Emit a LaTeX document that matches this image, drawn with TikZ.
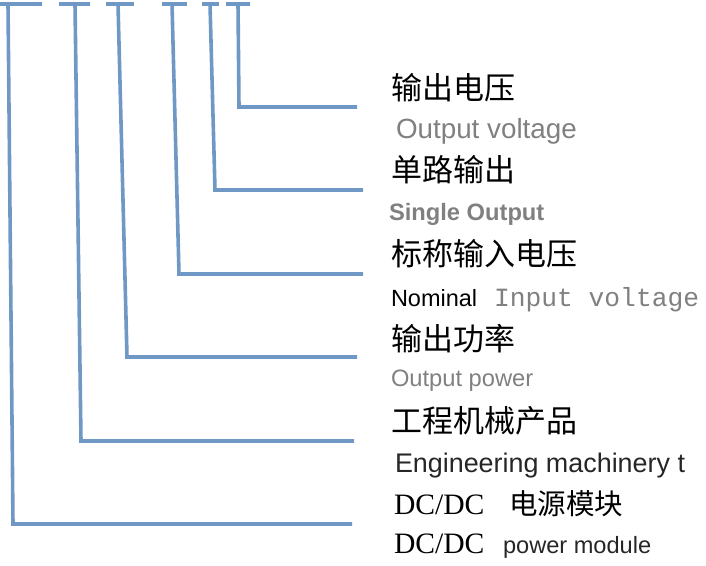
\documentclass[tikz,border=0pt]{standalone}
\usepackage{fontspec}
\setmainfont{Liberation Serif}
\newfontfamily\cjk{Noto Sans CJK SC}
\newfontfamily\arialf{Liberation Sans}
\newfontfamily\monof{Liberation Mono}
\definecolor{lineblue}{RGB}{112,152,196}
\definecolor{txtgray}{RGB}{128,128,128}
\begin{document}
\begin{tikzpicture}[x=1pt,y=-1pt,
  conn/.style={draw=lineblue,line width=3.6pt,line cap=butt,line join=miter},
  bar/.style={draw=lineblue,line width=3.4pt},
  lbl/.style={anchor=base west,inner sep=0pt,outer sep=0pt},
  zh/.style={lbl,font=\cjk\fontsize{31}{31}\selectfont,text=black},
  en/.style={lbl,font=\arialf\fontsize{25}{25}\selectfont}]
\useasboundingbox (0,0) rectangle (706,565);
% top bars
\coordinate (t1) at (8,4);   \coordinate (t1a) at (0,4);   \coordinate (t1b) at (42,4);
\coordinate (t2) at (75,4);  \coordinate (t2a) at (59,4);  \coordinate (t2b) at (90,4);
\coordinate (t3) at (118,4); \coordinate (t3a) at (106,4); \coordinate (t3b) at (134,4);
\coordinate (t4) at (172,4); \coordinate (t4a) at (162,4); \coordinate (t4b) at (187,4);
\coordinate (t5) at (210,4); \coordinate (t5a) at (202,4); \coordinate (t5b) at (219,4);
\coordinate (t6) at (238,4); \coordinate (t6a) at (226,4); \coordinate (t6b) at (250,4);
% corners
\coordinate (c1) at (13,524);  \coordinate (e1) at (352,524);
\coordinate (c2) at (81,441);  \coordinate (e2) at (354,441);
\coordinate (c3) at (127,357); \coordinate (e3) at (357,357);
\coordinate (c4) at (179,274); \coordinate (e4) at (363,274);
\coordinate (c5) at (215,190); \coordinate (e5) at (363,190);
\coordinate (c6) at (239,107); \coordinate (e6) at (357,107);
\foreach \i in {1,...,6}{
  \draw[bar] (t\i a) -- (t\i b);
  \draw[conn] (t\i) -- (c\i) -- (e\i);
}
% labels
\node[zh] (z6) at (391,99) {输出电压};
\node[en,text=txtgray,font=\arialf\fontsize{27.8}{27.8}\selectfont] (n6) at (396,138) {Output voltage};
\node[zh] (z5) at (391,181) {单路输出};
\node[en,text=txtgray,font=\arialf\bfseries\fontsize{23.7}{23.7}\selectfont] (n5) at (389,220) {Single Output};
\node[zh] (z4) at (391,265) {标称输入电压};
\node[en,text=black,font=\arialf\fontsize{23.5}{23.5}\selectfont] (n4) at (391,306) {Nominal};
\node[lbl,text=txtgray,font=\monof\fontsize{26.3}{26.3}\selectfont] (n4b) at (494,306) {Input voltage};
\node[zh] (z3) at (391,350) {输出功率};
\node[en,text=txtgray,font=\arialf\fontsize{23.7}{23.7}\selectfont] (n3) at (391,386) {Output power};
\node[zh] (z2) at (391,432) {工程机械产品};
\node[en,text=black!85,font=\arialf\fontsize{26.9}{26.9}\selectfont] (n2) at (395,472) {Engineering machinery t};
\node[lbl,font=\fontsize{29.6}{29.6}\selectfont] (d1) at (394,514) {DC/DC};
\node[zh,font=\cjk\fontsize{28.5}{28.5}\selectfont] (z1) at (509,514) {电源模块};
\node[lbl,font=\fontsize{29.6}{29.6}\selectfont] (d2) at (394,553) {DC/DC};
\node[en,text=black!85,font=\arialf\fontsize{23.6}{23.6}\selectfont] (n1) at (503,553) {power module};
\end{tikzpicture}
\end{document}
